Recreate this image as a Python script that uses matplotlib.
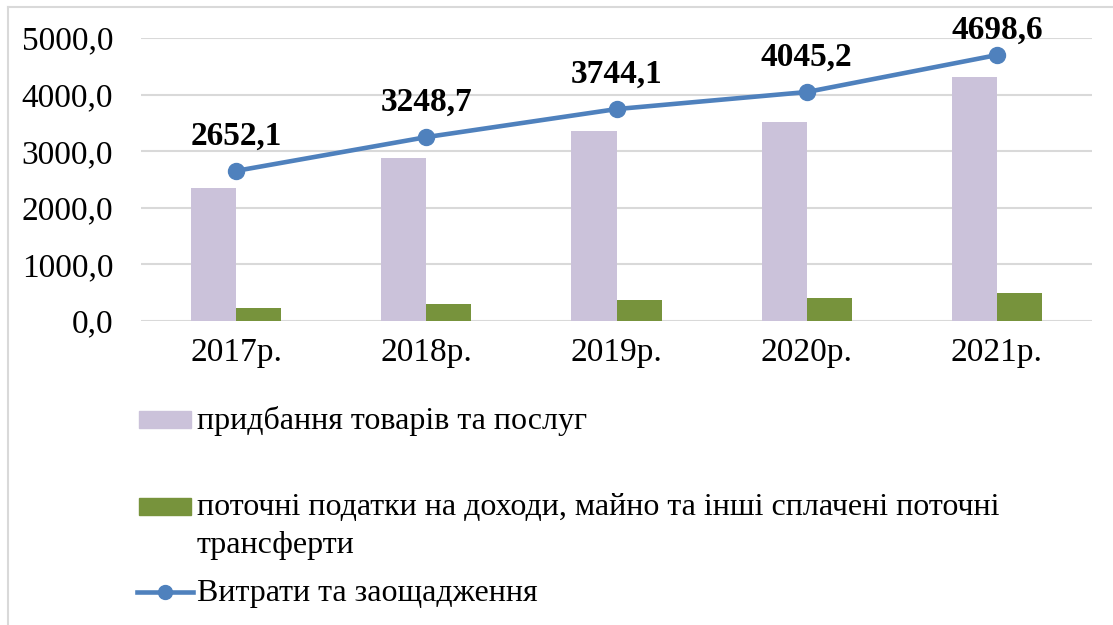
import matplotlib.pyplot as plt
import numpy as np
from matplotlib.lines import Line2D
from matplotlib.patches import Rectangle

plt.rcParams['font.family'] = ['Liberation Serif', 'DejaVu Serif']

years = ['2017р.', '2018р.', '2019р.', '2020р.', '2021р.']
goods = [2350, 2880, 3360, 3515, 4310]
taxes = [230, 300, 370, 405, 495]
total = [2652.1, 3248.7, 3744.1, 4045.2, 4698.6]

lbl_goods = 'придбання товарів та послуг'
lbl_taxes = 'поточні податки на доходи, майно та інші сплачені поточні\nтрансферти'
lbl_total = 'Витрати та заощадження'

c_goods = '#cbc2da'
c_taxes = '#77933c'
c_line = '#4f81bd'

W, H = 1113, 625
fig = plt.figure(figsize=(W / 100, H / 100), dpi=100)
# axes placed in pixel terms: x 141..1092, y 38..321 (top-down)
ax = fig.add_axes([141 / W, 1 - 321 / H, (1092 - 141) / W, (321 - 38) / H])

x = np.arange(len(years))
bw = 0.237
ax.bar(x - bw / 2, goods, bw, color=c_goods, zorder=2)
ax.bar(x + bw / 2, taxes, bw, color=c_taxes, zorder=2)
ax.plot(x, total, color=c_line, lw=3.3, marker='o', ms=11.5, zorder=3)

# last label sits closer to its point (no room above the plot)
offsets = [14, 14, 14, 14, 7]
for xi, v, off in zip(x, total, offsets):
    ax.annotate(f'{v:.1f}'.replace('.', ','), (xi, v), xytext=(0, off),
                textcoords='offset points', ha='center', va='bottom',
                fontsize=24, fontweight='bold', annotation_clip=False)

ax.set_xlim(-0.5, len(years) - 0.5)
ax.set_ylim(0, 5000)
ax.set_yticks(np.arange(0, 5001, 1000))
ax.set_yticklabels([f'{t:.1f}'.replace('.', ',') for t in np.arange(0, 5001, 1000)])
ax.set_xticks(x)
ax.set_xticklabels(years)
ax.tick_params(axis='both', length=0, labelsize=24)
ax.tick_params(axis='y', pad=20)
ax.tick_params(axis='x', pad=12)
ax.grid(axis='y', color='#d9d9d9', lw=1.5, zorder=0)
for s in ax.spines.values():
    s.set_visible(False)


# legend drawn by hand, Excel-style layout
def fy(py):
    return 1 - py / H


fig.patches.append(Rectangle((139 / W, fy(428)), 52 / W, 17 / H,
                             transform=fig.transFigure, color=c_goods))
fig.text(197 / W, fy(421), lbl_goods, fontsize=23, va='center')

fig.patches.append(Rectangle((139 / W, fy(515)), 52 / W, 17 / H,
                             transform=fig.transFigure, color=c_taxes))
fig.text(197 / W, fy(493), lbl_taxes, fontsize=23, va='top', linespacing=1.4)

fig.lines.append(Line2D([137 / W, 193 / W], [fy(592), fy(592)],
                        transform=fig.transFigure, color=c_line, lw=3.3))
fig.lines.append(Line2D([165 / W], [fy(592)], transform=fig.transFigure,
                        color=c_line, marker='o', ms=10, lw=0))
fig.text(197 / W, fy(594), lbl_total, fontsize=23, va='center')

# outer frame (top and left visible)
fig.lines.append(Line2D([8 / W, 1], [fy(7), fy(7)], transform=fig.transFigure,
                        color='#d9d9d9', lw=1.5))
fig.lines.append(Line2D([8 / W, 8 / W], [fy(7), 0], transform=fig.transFigure,
                        color='#d9d9d9', lw=1.5))

fig.savefig('out.png', dpi=100)
